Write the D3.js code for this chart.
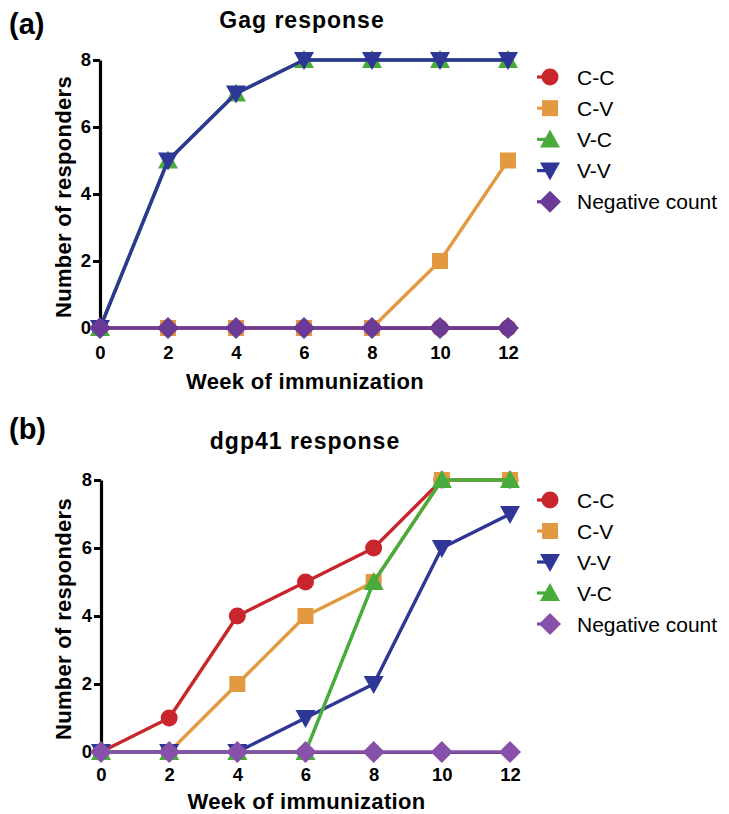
<!DOCTYPE html>
<html><head><meta charset="utf-8">
<script src="https://cdn.jsdelivr.net/npm/d3@7"></script>
<style>body{margin:0;background:#fff}svg{display:block}text{font-family:"Liberation Sans",Arial,sans-serif}</style>
</head><body>
<svg id="c" width="729" height="814"></svg>
<script>
const weeks = [0, 2, 4, 6, 8, 10, 12];
const yTicks = [0, 2, 4, 6, 8];
// Panel (a) Gag response
const gagCC = [0, 0, 0, 0, 0, 0, 0];
const gagCV = [0, 0, 0, 0, 0, 2, 5];
const gagVC = [0, 5, 7, 8, 8, 8, 8];
const gagVV = [0, 5, 7, 8, 8, 8, 8];
const gagNeg = [0, 0, 0, 0, 0, 0, 0];
// Panel (b) dgp41 response
const dgpCC = [0, 1, 4, 5, 6, 8, 8];
const dgpCV = [0, 0, 2, 4, 5, 8, 8];
const dgpVV = [0, 0, 0, 1, 2, 6, 7];
const dgpVC = [0, 0, 0, 0, 5, 8, 8];
const dgpNeg = [0, 0, 0, 0, 0, 0, 0];

const COL = {CC:"#c8252d", CV:"#e3993f", VC:"#4aab3d", VV:"#2e3796", NegA:"#6b3a97", NegB:"#8750a9"};

const svg = d3.select("#c");

function markerPath(shape) {
  const p = d3.path();
  if (shape === "circle") { p.arc(0, 0, 8.5, 0, 2 * Math.PI); }
  else if (shape === "square") { p.rect(-8, -8, 16, 16); }
  else if (shape === "up") { p.moveTo(0, -10); p.lineTo(10, 8); p.lineTo(-10, 8); p.closePath(); }
  else if (shape === "down") { p.moveTo(0, 10); p.lineTo(10, -8); p.lineTo(-10, -8); p.closePath(); }
  else if (shape === "diamond") { p.moveTo(0, -11); p.lineTo(11, 0); p.lineTo(0, 11); p.lineTo(-11, 0); p.closePath(); }
  return p.toString();
}

function panel(cfg) {
  const g = svg.append("g");
  const x = d3.scaleLinear().domain([0, 12]).range([cfg.x0, cfg.x1]);
  const y = d3.scaleLinear().domain([0, 8]).range([cfg.y0, cfg.y1]);

  // letter & title
  g.append("text").attr("x", 9).attr("y", cfg.letterY).attr("font-size", 29).attr("font-weight", "bold").text(cfg.letter);
  g.append("text").attr("x", cfg.titleX).attr("y", cfg.titleY).attr("text-anchor", "middle")
    .attr("font-size", 23).attr("font-weight", "bold").attr("letter-spacing", 1).text(cfg.title);

  // y axis
  const ya = g.append("g").attr("transform", `translate(${cfg.x0},0)`)
    .call(d3.axisLeft(y).tickValues(yTicks).tickSize(7).tickSizeOuter(0).tickPadding(2));
  ya.select(".domain").attr("stroke", "#000").attr("stroke-width", 3.2);
  ya.selectAll(".tick line").attr("stroke", "#000").attr("stroke-width", 3);
  ya.selectAll(".tick text").attr("font-size", 18.5).attr("font-weight", "bold").attr("fill", "#000")
    .attr("font-family", "Liberation Sans, Arial, sans-serif");

  // x axis
  const xa = g.append("g").attr("transform", `translate(0,${cfg.y0})`)
    .call(d3.axisBottom(x).tickValues(weeks).tickSize(0).tickSizeOuter(0).tickPadding(cfg.xPad));
  xa.select(".domain").attr("stroke", "#222").attr("stroke-width", 3);
  xa.selectAll(".tick text").attr("font-size", 18.5).attr("font-weight", "bold").attr("fill", "#000")
    .attr("font-family", "Liberation Sans, Arial, sans-serif");

  // axis titles
  g.append("text").attr("x", (cfg.x0 + cfg.x1) / 2 + 1).attr("y", cfg.xTitleY).attr("text-anchor", "middle")
    .attr("font-size", 22).attr("font-weight", "bold").attr("letter-spacing", 0.3).text("Week of immunization");
  g.append("text").attr("transform", `translate(71,${(cfg.y0 + cfg.y1) / 2 + 3}) rotate(-90)`)
    .attr("text-anchor", "middle").attr("font-size", 22).attr("font-weight", "bold").attr("letter-spacing", 0.3).text("Number of responders");

  const line = d3.line().x((d, i) => x(weeks[i])).y(d => y(d));

  cfg.series.forEach(s => {
    g.append("path").datum(s.values).attr("d", line).attr("fill", "none")
      .attr("stroke", s.color).attr("stroke-width", 3.4).attr("stroke-linejoin", "round");
    g.selectAll(null).data(s.values).enter().append("path")
      .attr("d", markerPath(s.shape))
      .attr("transform", (d, i) => `translate(${x(weeks[i])},${y(d)})`)
      .attr("fill", s.color);
  });

  // legend
  cfg.legendOrder.forEach((s, i) => {
    const ly = cfg.legY + i * cfg.legStep;
    g.append("line").attr("x1", cfg.legX - 13).attr("x2", cfg.legX).attr("y1", ly).attr("y2", ly)
      .attr("stroke", s.color).attr("stroke-width", 3.2);
    g.append("path").attr("d", markerPath(s.shape)).attr("transform", `translate(${cfg.legX},${ly})`).attr("fill", s.color);
    g.append("text").attr("x", cfg.legX + 27).attr("y", ly + 7.5).attr("font-size", 21).text(s.name);
  });
}

const A = {
  CC: {name: "C-C", values: gagCC, color: COL.CC, shape: "circle"},
  CV: {name: "C-V", values: gagCV, color: COL.CV, shape: "square"},
  VC: {name: "V-C", values: gagVC, color: COL.VC, shape: "up"},
  VV: {name: "V-V", values: gagVV, color: COL.VV, shape: "down"},
  Neg: {name: "Negative count", values: gagNeg, color: COL.NegA, shape: "diamond"}
};
panel({
  letter: "(a)", letterY: 34, title: "Gag response", titleX: 302, titleY: 28,
  x0: 100, x1: 508, y0: 328, y1: 60, xPad: 18, xTitleY: 389,
  series: [A.CC, A.CV, A.VC, A.VV, A.Neg],
  legendOrder: [A.CC, A.CV, A.VC, A.VV, A.Neg], legX: 550, legY: 77, legStep: 31.2
});

const B = {
  CC: {name: "C-C", values: dgpCC, color: COL.CC, shape: "circle"},
  CV: {name: "C-V", values: dgpCV, color: COL.CV, shape: "square"},
  VV: {name: "V-V", values: dgpVV, color: COL.VV, shape: "down"},
  VC: {name: "V-C", values: dgpVC, color: COL.VC, shape: "up"},
  Neg: {name: "Negative count", values: dgpNeg, color: COL.NegB, shape: "diamond"}
};
panel({
  letter: "(b)", letterY: 439, title: "dgp41 response", titleX: 305, titleY: 449,
  x0: 101, x1: 510, y0: 752, y1: 480, xPad: 16, xTitleY: 809,
  series: [B.CC, B.CV, B.VV, B.VC, B.Neg],
  legendOrder: [B.CC, B.CV, B.VV, B.VC, B.Neg], legX: 550, legY: 500, legStep: 31
});
</script>
</body></html>
